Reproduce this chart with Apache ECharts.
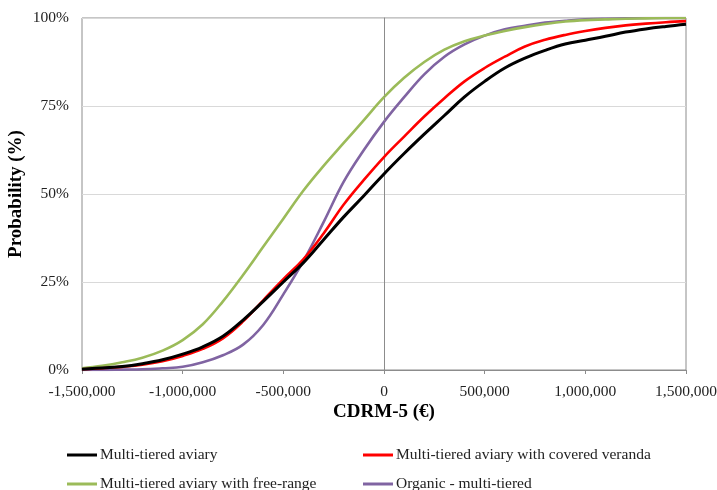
<!DOCTYPE html>
<html>
<head>
<meta charset="utf-8">
<script src="https://cdn.jsdelivr.net/npm/echarts@6/dist/echarts.min.js"></script>
<style>
  html, body { margin: 0; padding: 0; background: #fff; }
  #chart { width: 717px; height: 490px; }
</style>
</head>
<body>
<div id="chart"></div>
<script>
// CDRM-5 outcome (EUR), step of 100,000
const cdrm = [
  -1500000, -1400000, -1300000, -1200000, -1100000, -1000000, -900000, -800000,
  -700000, -600000, -500000, -400000, -300000, -200000, -100000, 0,
  100000, 200000, 300000, 400000, 500000, 600000, 700000, 800000,
  900000, 1000000, 1100000, 1200000, 1300000, 1400000, 1500000
];

// Cumulative probability (%) per housing system
const multiTiered = [
  0.2, 0.6, 1.0, 1.8, 2.9, 4.5, 6.6, 9.6,
  14.2, 19.5, 25.0, 30.5, 37.0, 43.5, 49.5, 55.7,
  61.5, 67.0, 72.3, 77.6, 82.0, 85.8, 88.6, 90.8,
  92.6, 93.7, 94.8, 96.0, 96.9, 97.6, 98.2
];
const coveredVeranda = [
  0.2, 0.5, 0.9, 1.5, 2.5, 4.0, 6.0, 9.0,
  13.8, 19.8, 25.8, 31.5, 38.8, 47.0, 54.0, 60.5,
  66.3, 72.0, 77.2, 82.0, 85.8, 89.0, 91.9, 93.8,
  95.2, 96.3, 97.2, 97.9, 98.4, 98.8, 99.1
];
const freeRange = [
  0.5, 1.2, 2.2, 3.5, 5.5, 8.5, 13.0, 19.5,
  27.0, 35.0, 43.0, 51.0, 58.0, 64.5, 71.0, 77.5,
  83.0, 87.5, 91.0, 93.4, 95.0, 96.3, 97.4, 98.3,
  99.0, 99.4, 99.6, 99.8, 99.9, 100, 100
];
const organic = [
  0.0, 0.0, 0.1, 0.2, 0.5, 0.9, 2.2, 4.2,
  7.2, 12.8, 21.5, 31.0, 42.0, 53.5, 62.5, 70.5,
  77.5, 84.0, 89.0, 92.5, 95.0, 96.8, 97.8, 98.7,
  99.2, 99.6, 99.8, 99.9, 100, 100, 100
];

const seriesNames = [
  'Multi-tiered aviary',
  'Multi-tiered aviary with covered veranda',
  'Multi-tiered aviary with free-range',
  'Organic - multi-tiered'
];
const seriesColors = ['#000000', '#ff0000', '#9bbb59', '#8064a2'];
const seriesValues = [multiTiered, coveredVeranda, freeRange, organic];

const yTicks = [0, 25, 50, 75, 100];
const xTicks = [-1500000, -1000000, -500000, 0, 500000, 1000000, 1500000];

const FONT = '"Liberation Serif", "Times New Roman", serif';

const chart = echarts.init(document.getElementById('chart'));

// legend: two columns, two rows
const legendPos = [
  { left: 67, top: 447 },
  { left: 363, top: 447 },
  { left: 67, top: 476 },
  { left: 363, top: 476 }
];

const series = seriesValues.map((vals, i) => ({
  name: seriesNames[i],
  type: 'line',
  data: cdrm.map((x, k) => [x, vals[k]]),
  showSymbol: false,
  smooth: 0.4,
  lineStyle: { color: seriesColors[i], width: i === 0 ? 3 : 2.6 },
  itemStyle: { color: seriesColors[i] },
  z: 3 + (3 - i),
  animation: false
}));

// dotted reference line at zero
series[0].markLine = {
  silent: true,
  symbol: 'none',
  label: { show: false },
  lineStyle: { color: '#8c8c8c', type: [1, 2], width: 1 },
  data: [{ xAxis: 0 }],
  animation: false
};

chart.setOption({
  animation: false,
  textStyle: { fontFamily: FONT },
  grid: {
    left: 82, right: 31, top: 18, bottom: 120,
    show: true, borderColor: '#8c8c8c', borderWidth: 1,
    containLabel: false,
    outerBoundsMode: 'none'
  },
  legend: legendPos.map((p, i) => ({
    data: [seriesNames[i]],
    left: p.left,
    top: p.top,
    padding: 0,
    icon: 'rect',
    itemWidth: 30,
    itemHeight: 3,
    itemGap: 4,
    selectedMode: false,
    textStyle: { fontFamily: FONT, fontSize: 15.5, color: '#222', padding: [0, 0, 0, -2] }
  })),
  xAxis: {
    type: 'value',
    min: xTicks[0],
    max: xTicks[xTicks.length - 1],
    interval: 500000,
    name: 'CDRM-5 (€)',
    nameLocation: 'middle',
    nameGap: 33,
    nameMoveOverlap: false,
    nameTextStyle: { fontFamily: FONT, fontSize: 19, fontWeight: 'bold', color: '#000' },
    axisLine: { show: true, onZero: false, lineStyle: { color: '#8c8c8c', width: 1 } },
    axisTick: { show: true, length: 4, lineStyle: { color: '#8c8c8c' } },
    axisLabel: {
      margin: 14,
      fontFamily: FONT, fontSize: 15.5, color: '#222',
      formatter: v => v.toLocaleString('en-US')
    },
    splitLine: { show: false }
  },
  yAxis: {
    type: 'value',
    min: yTicks[0],
    max: yTicks[yTicks.length - 1],
    interval: 25,
    name: 'Probability (%)',
    nameLocation: 'middle',
    nameGap: 56,
    nameMoveOverlap: false,
    nameTextStyle: { fontFamily: FONT, fontSize: 19, fontWeight: 'bold', color: '#000' },
    axisLine: { show: true, lineStyle: { color: '#8c8c8c', width: 1 } },
    axisTick: { show: false },
    axisLabel: {
      margin: 13,
      fontFamily: FONT, fontSize: 15.5, color: '#222',
      formatter: '{value}%'
    },
    splitLine: { show: true, lineStyle: { color: '#d9d9d9', width: 1 } }
  },
  series: series
});
</script>
</body>
</html>
